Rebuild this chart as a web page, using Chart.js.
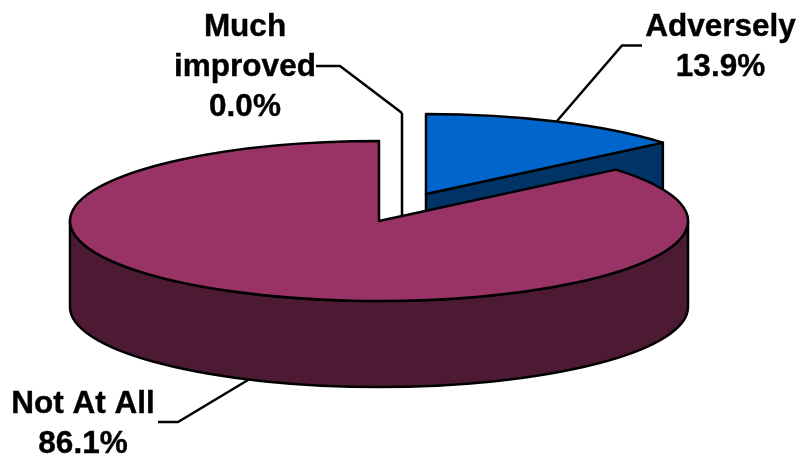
<!DOCTYPE html>
<html>
<head>
<meta charset="utf-8">
<script src="https://cdn.jsdelivr.net/npm/chart.js@4"></script>
<style>
  html, body { margin: 0; padding: 0; background: #fff; }
  canvas { display: block; }
</style>
</head>
<body>
<canvas id="pieChart" width="798" height="458"></canvas>
<script>
// Chart data
const categories = ['Adversely', 'Not At All', 'Much improved'];
const values = [13.9, 86.1, 0.0];

// Slice styles
const topColors = ['#0066cc', '#993366', '#ffffff'];
const sideColors = ['#003366', '#4d1a33', '#ffffff'];
const sliceShift = [[47, -27], [0, 0], [23, -28]];

const pieRadius = 309;
const pieTilt = 80 / 309;
const pieDepth = 86;
const outlineWidth = 2.5;

// Text blocks and their leader lines
const labelLines = [['Adversely'], ['Not At All'], ['Much', 'improved']];
const labelCenters = [[720.5, 36], [83, 413], [245, 36]];
const leaderLines = [
  [[642, 45.5], [622, 45.5], [557, 121]],
  [[158, 422], [178, 422], [248, 380]],
  [[316, 66], [340, 66], [402, 113]]
];
const labelFont = 'bold 31.5px "Liberation Sans", Arial, sans-serif';
const labelLineHeight = 40;

/**
 * Pie controller that draws its arcs as a tilted, extruded pie.
 * Chart.js still lays out the angles and the radius.
 */
class Pie3DController extends Chart.PieController {
  static id = 'pie3d';

  draw() {
    const ctx = this.chart.ctx;
    const arcs = this.getMeta().data;

    // Exploded slices sit behind the main body
    const order = arcs.map((arc, i) => i).sort((a, b) => sliceShift[a][1] - sliceShift[b][1]);
    order.forEach(i => this.drawSlice(ctx, arcs[i], i));
  }

  drawSlice(ctx, arc, index) {
    const rx = arc.outerRadius;
    const ry = rx * pieTilt;
    const cx = arc.x + sliceShift[index][0];
    const cy = arc.y + sliceShift[index][1];
    const start = arc.startAngle;
    const end = arc.endAngle;

    ctx.save();
    ctx.lineWidth = outlineWidth;
    ctx.lineJoin = 'round';
    ctx.strokeStyle = '#000000';

    // A zero slice collapses to its radius and the upright edge below it
    if (end - start === 0) {
      ctx.beginPath();
      ctx.moveTo(cx + Math.cos(start) * rx, cy + Math.sin(start) * ry);
      ctx.lineTo(cx, cy);
      ctx.lineTo(cx, cy + pieDepth);
      ctx.stroke();
      ctx.restore();
      return;
    }

    ctx.fillStyle = sideColors[index];

    // Cut faces turned towards the viewer
    if (Math.cos(end) > 1e-6) {
      this.strokeFace(ctx, cx, cy, rx, ry, end);
    }
    if (Math.cos(start) < -1e-6) {
      this.strokeFace(ctx, cx, cy, rx, ry, start);
    }

    // Front rim, only the part of the slice between 0 and PI
    for (let turn = -1; turn <= 1; turn++) {
      const from = Math.max(start, turn * 2 * Math.PI);
      const to = Math.min(end, turn * 2 * Math.PI + Math.PI);
      if (to > from) {
        ctx.beginPath();
        ctx.ellipse(cx, cy, rx, ry, 0, from, to);
        ctx.ellipse(cx, cy + pieDepth, rx, ry, 0, to, from, true);
        ctx.closePath();
        ctx.fill();
        ctx.stroke();
      }
    }

    // Top surface
    ctx.fillStyle = topColors[index];
    ctx.beginPath();
    ctx.moveTo(cx, cy);
    ctx.ellipse(cx, cy, rx, ry, 0, start, end);
    ctx.closePath();
    ctx.fill();
    ctx.stroke();
    ctx.restore();
  }

  strokeFace(ctx, cx, cy, rx, ry, angle) {
    const ex = cx + Math.cos(angle) * rx;
    const ey = cy + Math.sin(angle) * ry;
    ctx.beginPath();
    ctx.moveTo(cx, cy);
    ctx.lineTo(ex, ey);
    ctx.lineTo(ex, ey + pieDepth);
    ctx.lineTo(cx, cy + pieDepth);
    ctx.closePath();
    ctx.fill();
    ctx.stroke();
  }
}

Chart.register(Pie3DController);

// Category labels with percentages and their leaders
const calloutPlugin = {
  id: 'callouts',
  afterDatasetsDraw(chart) {
    const ctx = chart.ctx;
    ctx.save();
    ctx.strokeStyle = '#000000';
    ctx.lineWidth = outlineWidth;
    leaderLines.forEach(points => {
      ctx.beginPath();
      points.forEach(([x, y], i) => (i ? ctx.lineTo(x, y) : ctx.moveTo(x, y)));
      ctx.stroke();
    });

    ctx.fillStyle = '#000000';
    ctx.font = labelFont;
    ctx.textAlign = 'center';
    ctx.textBaseline = 'alphabetic';
    ctx.lineWidth = 0.4;
    labelLines.forEach((lines, i) => {
      const [x, y] = labelCenters[i];
      const text = lines.concat(values[i].toFixed(1) + '%');
      text.forEach((line, row) => {
        ctx.fillText(line, x, y + row * labelLineHeight);
        ctx.strokeText(line, x, y + row * labelLineHeight);
      });
    });
    ctx.restore();
  }
};

new Chart(document.getElementById('pieChart'), {
  type: 'pie3d',
  data: {
    labels: categories,
    datasets: [{
      data: values,
      radius: pieRadius,
      backgroundColor: topColors,
      borderWidth: 0
    }]
  },
  options: {
    responsive: false,
    animation: false,
    layout: { padding: { right: 40, bottom: 16 } },
    plugins: {
      legend: { display: false },
      tooltip: { enabled: false }
    }
  },
  plugins: [calloutPlugin]
});
</script>
</body>
</html>
